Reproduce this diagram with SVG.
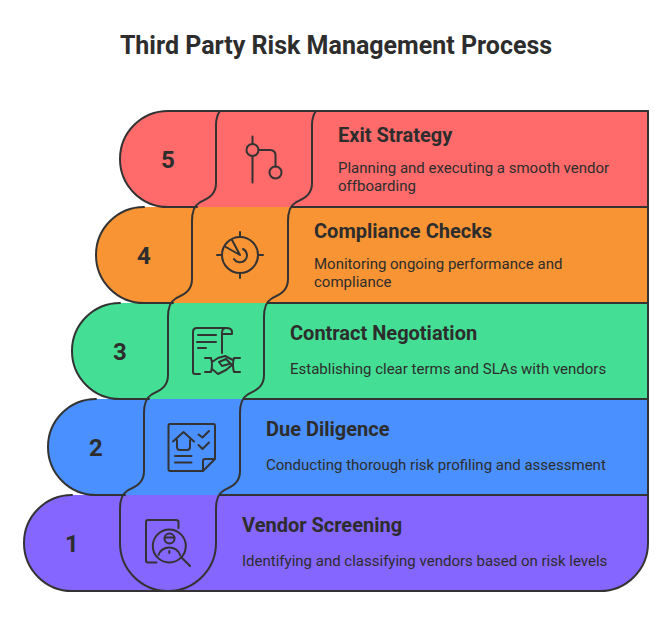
<svg xmlns="http://www.w3.org/2000/svg" width="672" height="618" viewBox="0 0 672 618">
<style>
text{font-family:Roboto,"Liberation Sans",sans-serif;fill:#2d2d2d}
.t{font-size:25px;font-weight:700}
.n{font-size:24px;font-weight:700;text-anchor:middle}
.h{font-size:20px;font-weight:700}
.d{font-size:15px}
.l{fill:none;stroke:#333;stroke-width:2;stroke-linecap:round;stroke-linejoin:round}
.i{fill:none;stroke:#333;stroke-width:2;stroke-linecap:round;stroke-linejoin:round}
</style>
<rect width="672" height="618" fill="#fff"/>
<text class="t" x="336" y="54" text-anchor="middle">Third Party Risk Management Process</text>
<g id="band-5"><path d="M648 111H168A48 48 0 0 0 168 207H648Z" fill="#ff6b6b"/></g>
<g id="band-4"><path d="M648 207H144A48 48 0 0 0 144 303H648Z" fill="#f89433"/></g>
<g id="band-3"><path d="M648 303H120A48 48 0 0 0 120 399H648Z" fill="#44df94"/></g>
<g id="band-2"><path d="M648 399H96A48 48 0 0 0 96 495H648Z" fill="#4a90ff"/></g>
<g id="band-1"><path d="M648 495H72A48 48 0 0 0 72 591H600A48 48 0 0 0 648 543Z" fill="#8566ff"/></g>
<g id="connectors">
<path class="l" d="M648 111H168A48 48 0 0 0 168 207H197M292 207H648"/>
<path class="l" d="M144 207A48 48 0 0 0 144 303H173M268 303H648"/>
<path class="l" d="M120 303A48 48 0 0 0 120 399H149M244 399H648"/>
<path class="l" d="M96 399A48 48 0 0 0 96 495H125M220 495H648"/>
<path class="l" d="M72 495A48 48 0 0 0 72 591H600A48 48 0 0 0 648 543V111"/>
<path class="l" d="M220 111C217 115 216 119 216 125V183C216 197 205 199 199 203C194 206 192 212 192 221V279C192 293 181 295 175 299C170 302 168 308 168 317V375C168 389 157 391 151 395C146 398 144 404 144 413V471C144 485 133 487 127 491C122 494 120 500 120 509V543A48 48 0 0 0 168 591A48 48 0 0 0 216 543V509C216 500 218 494 223 491C229 487 240 485 240 471V413C240 404 242 398 247 395C253 391 264 389 264 375V317C264 308 266 302 271 299C277 295 288 293 288 279V221C288 212 290 206 295 203C301 199 312 197 312 183V125C312 119 313 115 316 111"/>
</g>
<g id="step-5">
<text class="n" x="168" y="168">5</text>
<g class="i"><circle cx="252.500" cy="150" r="6"/><circle cx="275.500" cy="172.500" r="6"/><path d="M252.500 136.500V144M252.500 156V182.500M258.500 150H270Q275.500 150 275.500 155.500V166.500"/></g>
<text class="h" x="338" y="142">Exit Strategy</text>
<text class="d" x="338" y="173">Planning and executing a smooth vendor</text>
<text class="d" x="338" y="191">offboarding</text>
</g>
<g id="step-4">
<text class="n" x="144" y="264">4</text>
<g class="i"><circle cx="240" cy="255" r="18"/><path d="M240 232V237M240 273V278M217 255H222M258 255H263M225 246.500L240 255L232 240M243 249A7 7 0 1 1 234 259"/></g>
<text class="h" x="314" y="238">Compliance Checks</text>
<text class="d" x="314" y="269">Monitoring ongoing performance and</text>
<text class="d" x="314" y="287">compliance</text>
</g>
<g id="step-3">
<text class="n" x="120" y="360">3</text>
<g class="i"><path d="M222 353V333Q222 328 226 328H197Q193 328 193 332V372Q193 374 195 374H200M226 328Q232 328 232 332V334H222M198 335H216M197 342H216M198 348H206"/><path d="M205 358H211M205 372H211M211 358Q213 365 211 372M240 358H234M240 372H234M234 358Q232 365 234 372M212 362L218 358L225 356L233 360M212 369L218 374L226 370L232 365L226 359L219 362L222 366L229 364"/></g>
<text class="h" x="290" y="340">Contract Negotiation</text>
<text class="d" x="290" y="374">Establishing clear terms and SLAs with vendors</text>
</g>
<g id="step-2">
<text class="n" x="96" y="456">2</text>
<g class="i"><path d="M203 471H170Q168.500 471 168.500 469V426Q168.500 424 170 424H213.500Q215 424 215 426V459L203 471V461Q203 459 205 459H215"/><path d="M173 441.500L183.500 432L194 441.500M177 440V447Q177 450 180 450H187Q190 450 190 447V440M175 456H191.500M175 462.500H191.500M198.500 434.500L202.500 437.500L209 431M198.500 445L202.500 449L209 442.500"/></g>
<text class="h" x="266" y="436">Due Diligence</text>
<text class="d" x="266" y="470">Conducting thorough risk profiling and assessment</text>
</g>
<g id="step-1">
<text class="n" x="72" y="552">1</text>
<g class="i"><path d="M156.500 562.500H148Q146 562.500 146 560.500V522Q146 520 148 520H176Q178.500 520 178.500 522V528"/><circle cx="169.300" cy="546" r="16.500"/><circle cx="169.500" cy="538.500" r="5"/><path d="M165 537.500H174.500M158.500 555A11 9.500 0 0 1 180 555M169.300 551V553M181 557L190 566"/></g>
<text class="h" x="242" y="532">Vendor Screening</text>
<text class="d" x="242" y="566">Identifying and classifying vendors based on risk levels</text>
</g>
</svg>
